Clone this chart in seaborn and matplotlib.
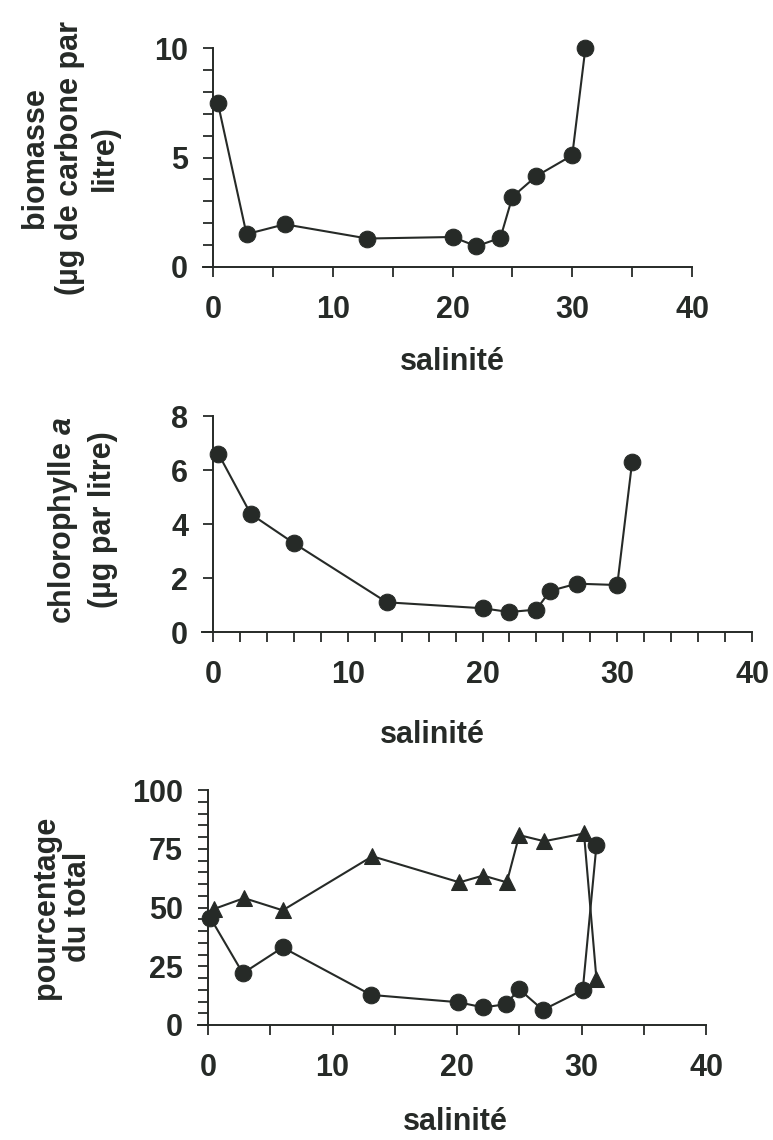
import matplotlib
matplotlib.use("Agg")
import matplotlib.pyplot as plt
import seaborn as sns
import numpy as np
import pandas as pd
from matplotlib.ticker import MultipleLocator

# ---- data ----
salinite = [0.4, 2.8, 6.0, 12.9, 20.0, 22.0, 24.0, 25.0, 27.0, 30.0, 31.1]
biomasse = [7.5, 1.5, 1.95, 1.3, 1.37, 0.95, 1.33, 3.2, 4.15, 5.1, 10.0]
chlorophylle = [6.6, 4.37, 3.29, 1.1, 0.88, 0.74, 0.83, 1.52, 1.79, 1.74, 6.28]
pct_triangle = [49.4, 54.0, 48.8, 71.8, 60.7, 63.6, 60.7, 80.8, 78.2, 81.5, 19.6]
pct_cercle = [45.5, 22.0, 33.0, 12.8, 9.7, 7.5, 8.8, 15.2, 6.4, 14.9, 76.4]
sal_triangle = [0.5, 2.9, 6.0, 13.2, 20.2, 22.1, 24.0, 25.0, 27.0, 30.2, 31.2]
sal_cercle = [0.2, 2.8, 6.0, 13.1, 20.1, 22.1, 23.9, 25.0, 26.9, 30.1, 31.2]

xticks_major = [0, 10, 20, 30, 40]

sns.set_theme(style="white")
plt.rcParams["font.family"] = ["Liberation Sans", "DejaVu Sans"]
plt.rcParams["font.weight"] = "bold"
plt.rcParams["mathtext.fontset"] = "custom"
plt.rcParams["mathtext.it"] = "Liberation Sans:style=italic:weight=bold"
plt.rcParams["mathtext.rm"] = "Liberation Sans:weight=bold"

INK = "#262a27"
W, H = 773, 1140
fig = plt.figure(figsize=(W / 100, H / 100), dpi=100)
fig.patch.set_facecolor("white")

FS = 22


def make_axes(x0px, x40px, y0px, ytoppx, ytop, xleft=-0.8):
    ppu = (x40px - x0px) / 40.0
    left = x0px + xleft * ppu
    ax = fig.add_axes([left / W, (H - y0px) / H, (x40px - left) / W, (y0px - ytoppx) / H])
    ax.set_xlim(xleft, 40)
    ax.set_ylim(0, ytop)
    ax.set_facecolor("none")
    for s in ["top", "right"]:
        ax.spines[s].set_visible(False)
    ax.spines["left"].set_position(("data", 0))
    for s in ["left", "bottom"]:
        ax.spines[s].set_color(INK)
        ax.spines[s].set_linewidth(1.4)
    ax.tick_params(which="both", direction="out", color=INK, width=1.3,
                   length=7, labelsize=FS, labelcolor=INK, left=True, bottom=True)
    ax.tick_params(axis="y", which="both", pad=11)
    ax.tick_params(axis="x", which="both", pad=13)
    ax.set_xticks(xticks_major)
    return ax


def draw(ax, xs, ys, marker, ms):
    df = pd.DataFrame({"x": xs, "y": ys})
    sns.lineplot(data=df, x="x", y="y", ax=ax, color=INK, marker=marker,
                 markersize=ms, markeredgecolor=INK, markerfacecolor=INK,
                 linewidth=1.5, sort=False, estimator=None, clip_on=False)
    ax.set_xlabel("")
    ax.set_ylabel("")


def bold_ticks(ax):
    for lab in ax.get_xticklabels() + ax.get_yticklabels():
        lab.set_fontweight("bold")


# Panel 1 : biomasse
ax1 = make_axes(213, 692, 267, 48, 10)
draw(ax1, salinite, biomasse, "o", 12)
ax1.set_yticks([0, 5, 10])
ax1.yaxis.set_minor_locator(MultipleLocator(1))
ax1.xaxis.set_minor_locator(MultipleLocator(5))
bold_ticks(ax1)

# Panel 2 : chlorophylle a
ax2 = make_axes(213, 752, 632, 416, 8)
draw(ax2, salinite, chlorophylle, "o", 12)
ax2.set_yticks([0, 2, 4, 6, 8])
ax2.xaxis.set_minor_locator(MultipleLocator(2))
bold_ticks(ax2)

# Panel 3 : pourcentage du total
ax3 = make_axes(208, 706, 1025, 790, 100)
draw(ax3, sal_triangle, pct_triangle, "^", 12)
draw(ax3, sal_cercle, pct_cercle, "o", 12)
ax3.set_yticks([0, 25, 50, 75, 100])
ax3.yaxis.set_minor_locator(MultipleLocator(5))
ax3.xaxis.set_minor_locator(MultipleLocator(5))
bold_ticks(ax3)


def ftext(xpx, ypx, s, rot=0, ls=1.1):
    fig.text(xpx / W, 1 - ypx / H, s, rotation=rot, ha="center", va="center",
             multialignment="center", fontsize=FS, fontweight="bold", color=INK,
             linespacing=ls)

ftext(70, 158, "biomasse\n(µg de carbone par\nlitre)", 90, 1.2)
ftext(82, 520, "chlorophylle $\\mathit{a}$\n(µg par litre)", 90, 1.35)
ftext(62, 907, "pourcentage\ndu total", 90, 1.1)
ftext(452, 362, "salinité")
ftext(432, 735, "salinité")
ftext(455, 1122, "salinité")

fig.savefig("out.png", dpi=100, facecolor="white")
